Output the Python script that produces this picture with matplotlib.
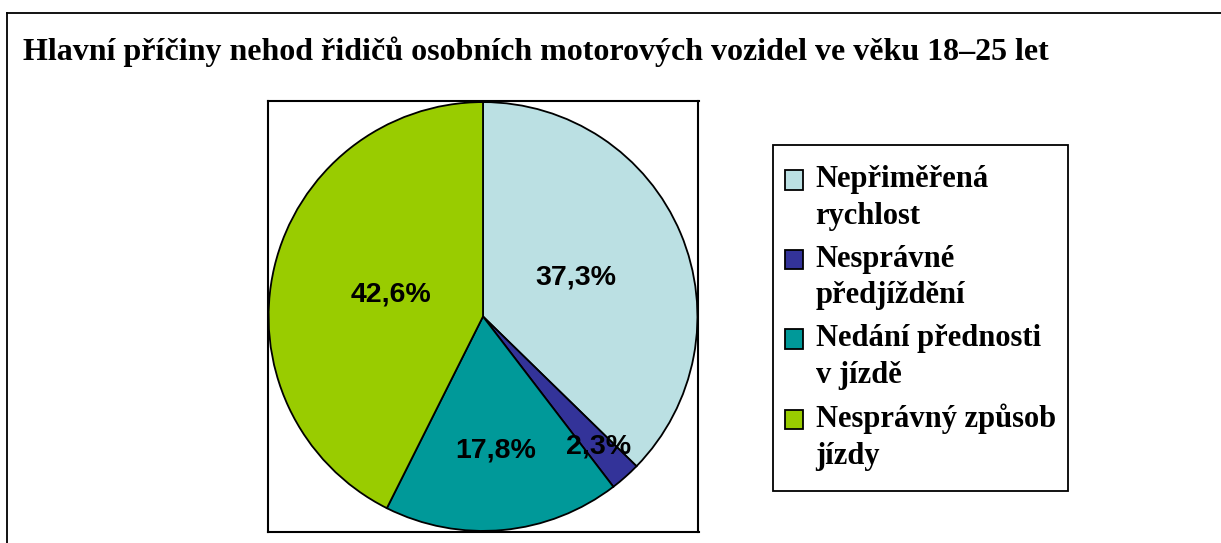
import matplotlib.pyplot as plt
import numpy as np
from matplotlib.lines import Line2D
from matplotlib.patches import Patch, Rectangle
from matplotlib.legend_handler import HandlerPatch

# data
pricina = ["Nepřiměřená\nrychlost", "Nesprávné\npředjíždění",
           "Nedání přednosti\nv jízdě", "Nesprávný způsob\njízdy"]
podil = [37.3, 2.3, 17.8, 42.6]
popisky = ["37,3%", "2,3%", "17,8%", "42,6%"]
barvy = ["#BBE0E3", "#333399", "#009999", "#99CC00"]
vzdalenost = [0.47, 0.81, 0.63, 0.44]  # jak daleko od stredu jsou popisky

fig = plt.figure(figsize=(12.21, 5.43), dpi=100)

# ramecek kolem celeho grafu (vlevo a nahore)
fig.add_artist(Line2D([7/1221, 7/1221], [0, 1-13/543], color="black", lw=1.3))
fig.add_artist(Line2D([7/1221, 1], [1-13/543, 1-13/543], color="black", lw=1.3))

fig.text(23/1221, 1-60/543, "Hlavní příčiny nehod řidičů osobních motorových vozidel ve věku 18–25 let",
         fontfamily="Liberation Serif", fontweight="bold", fontsize=23, va="baseline", ha="left")

ax = fig.add_axes([267/1221, 11/543, 432/1221, 431/543])
wedges, _ = ax.pie(podil, colors=barvy, startangle=90, counterclock=False,
                   wedgeprops=dict(edgecolor="black", linewidth=1.3))

for w, txt, d in zip(wedges, popisky, vzdalenost):
    a = np.deg2rad((w.theta1 + w.theta2) / 2)
    ax.text(d*np.cos(a), d*np.sin(a), txt, ha="center", va="center",
            fontfamily="Liberation Sans", fontweight="bold", fontsize=20.5)

ax.set_xlim(-1.005, 1.005)
ax.set_ylim(-1.005, 1.005)
ax.set_aspect("equal")
ax.set_xticks([])
ax.set_yticks([])
ax.set_frame_on(True)
for s in ax.spines.values():
    s.set_linewidth(1.5)
    s.set_visible(True)
    s.set_color("black")


# ctverecek v legende zarovnany k prvnimu radku textu
def ctverec(legend, orig_handle, xdescent, ydescent, width, height, fontsize):
    return Rectangle((-xdescent, -ydescent + 13), width, height)


handles = [Patch(facecolor=c, edgecolor="black", linewidth=1.3) for c in barvy]
leg = fig.legend(handles, pricina, loc="upper left", bbox_to_anchor=(782/1221, 1-162/543),
                 prop=dict(family="Liberation Serif", weight="bold", size=22),
                 frameon=True, fancybox=False, edgecolor="black", framealpha=1,
                 handlelength=0.6, handleheight=0.6, handletextpad=0.4,
                 labelspacing=0.45, borderpad=0.1, borderaxespad=0,
                 handler_map={Patch: HandlerPatch(patch_func=ctverec)})
# ramecek legendy: vetsi okraj nahore a dole nez po stranach
leg.get_frame().set_boxstyle("square", pad=0.295)
leg.get_frame().set_mutation_aspect(1.89)
leg.get_frame().set_linewidth(1.3)
for t in leg.get_texts():
    t.set_linespacing(1.35)

fig.savefig("out.png", dpi=100)
